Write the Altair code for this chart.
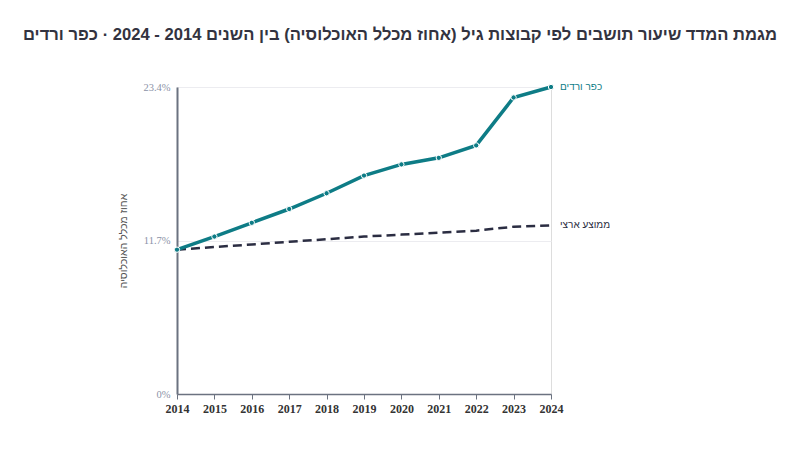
import altair as alt
import pandas as pd

years = [2014, 2015, 2016, 2017, 2018, 2019, 2020, 2021, 2022, 2023, 2024]
kfar_vradim = [11.0, 12.0, 13.05, 14.1, 15.3, 16.65, 17.5, 18.0, 18.95, 22.6, 23.4]
national_avg = [11.0, 11.2, 11.4, 11.6, 11.8, 12.0, 12.15, 12.3, 12.45, 12.75, 12.85]
series_names = ["כפר ורדים", "ממוצע ארצי"]
y_ticks = [0, 11.7, 23.4]

title_text = "מגמת המדד שיעור תושבים לפי קבוצות גיל (אחוז מכלל האוכלוסיה) בין השנים 2014 - 2024 · כפר ורדים"
y_title = "אחוז מכלל האוכלוסיה"

TEAL = "#0e7c86"
DARK = "#2b2d42"

df_k = pd.DataFrame({"year": years, "value": kfar_vradim, "series": series_names[0]})
df_n = pd.DataFrame({"year": years, "value": national_avg, "series": series_names[1]})

x = alt.X("year:Q", scale=alt.Scale(domain=[years[0], years[-1]], nice=False, zero=False),
          axis=alt.Axis(values=years, format="d", title=None, grid=False,
                        labelFont="Liberation Serif", labelFontWeight="bold", labelFontSize=12,
                        labelColor="#333333", labelPadding=4, tickColor="#6b7280", tickSize=5,
                        labelFlush=False, labelOverlap=False,
                        domainColor="#6b7280", domainWidth=1.5))
y = alt.Y("value:Q", scale=alt.Scale(domain=[0, 23.4], nice=False),
          axis=alt.Axis(values=y_ticks, labelExpr="datum.value + '%'", title=y_title,
                        titleFont="Liberation Sans", titleFontWeight="normal", titleFontSize=10.5,
                        titleColor="#555555", titlePadding=14,
                        labelFont="Liberation Serif", labelFontSize=10.5, labelColor="#8c93a8",
                        labelPadding=7, tickSize=0, grid=True, gridColor="#ececf0", gridWidth=1,
                        labelFlush=False, labelOverlap=False,
                        domainColor="#6b7280", domainWidth=2))

line_k = alt.Chart(df_k).mark_line(color=TEAL, strokeWidth=3.5).encode(x=x, y=y)
pts_k = alt.Chart(df_k).mark_point(filled=True, color=TEAL, size=28, stroke="white",
                                    strokeWidth=1, opacity=1).encode(x=x, y=y)
line_n = alt.Chart(df_n).mark_line(color=DARK, strokeWidth=2.5, strokeDash=[9, 5]).encode(x=x, y=y)

last = pd.DataFrame({"year": [years[-1], years[-1]],
                     "value": [kfar_vradim[-1], national_avg[-1]],
                     "series": series_names})
labels = alt.Chart(last).mark_text(align="left", dx=9, fontSize=10, font="Liberation Sans").encode(
    x=x, y=y, text="series:N",
    color=alt.Color("series:N", scale=alt.Scale(domain=series_names, range=[TEAL, DARK]), legend=None))

chart = alt.layer(line_n, line_k, pts_k, labels).properties(
    width=374, height=307,
    autosize=alt.AutoSizeParams(type="none"),
    padding={"left": 177, "top": 87, "right": 249, "bottom": 79},
    title=alt.TitleParams(title_text, anchor="middle", dx=36, offset=36, fontSize=16.6,
                          font="Liberation Sans", fontWeight="bold", color="#333340"),
).configure_view(stroke=None).configure(background="white")

chart.save("out.html", embed_options={"renderer": "svg", "actions": False})
